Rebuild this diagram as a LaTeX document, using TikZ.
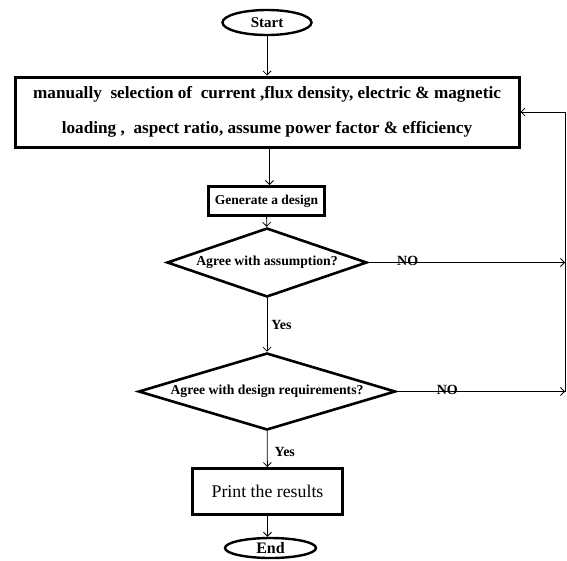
\documentclass[tikz,border=0pt]{standalone}
\usepackage{fontspec}
\setmainfont{Liberation Serif}
\usetikzlibrary{shapes.geometric}
\usetikzlibrary{arrows.meta}
\tikzset{
  terminal/.style={draw, ellipse, line width=2.4pt, inner sep=0pt,
    font=\bfseries\fontsize{15}{17}\selectfont},
  process/.style={draw, rectangle, line width=3pt, inner sep=0pt},
  decision/.style={draw, diamond, line width=2.6pt, inner sep=0pt, aspect=3,
    font=\bfseries\fontsize{13.7}{15}\selectfont},
  flow/.style={->, line width=0.8pt},
  answer/.style={font=\bfseries\fontsize{14}{16}\selectfont, inner sep=0pt}
}

\begin{document}
\begin{tikzpicture}[>={Straight Barb[length=4pt,width=8pt]}, x=1pt, y=-1pt]
  \useasboundingbox (0,0) rectangle (567,560);

  \node [terminal, minimum width=89, minimum height=25] (start) at (267, 22.5) {Start};

  \node [process, minimum width=504, minimum height=70, align=center,
    font=\bfseries\fontsize{17.2}{35}\selectfont] (params) at (267, 112)
  {manually\ \ selection of\ \ current ,flux density, electric \& magnetic\\
    loading ,\ \ aspect ratio, assume power factor \& efficiency};

  \node [process, minimum width=116, minimum height=29,
    font=\bfseries\fontsize{13.5}{15}\selectfont] (gen) at (266.5, 201) {Generate a design};

  \node [decision, minimum width=200, minimum height=69] (q1) at (267, 262.5)
  {Agree with assumption?};

  \node [decision, minimum width=257, minimum height=77] (q2) at (267, 391.5)
  {Agree with design requirements?};

  \node [process, minimum width=150, minimum height=46,
    font=\fontsize{17.8}{20}\selectfont] (print) at (267.5, 491.5) {Print the results};

  \node [terminal, minimum width=91, minimum height=20,
    font=\bfseries\fontsize{16}{18}\selectfont] (end) at (270.5, 548) {End};

  \coordinate (fb1) at (565, 262.5);
  \coordinate (fb2) at (565, 391.5);

  \draw [flow] (start) -- (params);
  \draw [flow] ([xshift=3pt]params.south -| gen.north) -- ([xshift=3pt]gen.north);
  \draw [flow] (gen) -- (q1);
  \draw [flow] (q1) -- node [answer, right, xshift=4pt] {Yes} (q2);
  \draw [flow] (q2) -- node [answer, right, xshift=7pt, yshift=-3pt] {Yes} (print);
  \draw [flow] (print) -- (print |- end.north);

  \draw [flow] (q1.east) -- node [answer, pos=0.2, above, yshift=-4pt] {NO} (fb1);
  \draw [flow] (q2.east) -- node [answer, pos=0.3, above, yshift=-4pt] {NO} (fb2);
  \draw [flow] (fb2) |- (params.east); % back to selection

\end{tikzpicture}
\end{document}
